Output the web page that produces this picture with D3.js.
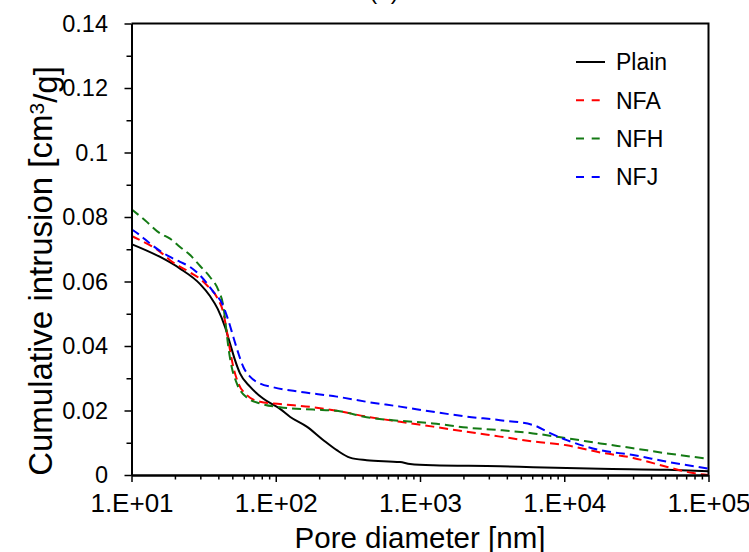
<!DOCTYPE html>
<html>
<head>
<meta charset="utf-8">
<script src="https://cdn.jsdelivr.net/npm/d3@7"></script>
<style>
  body { margin: 0; background: #fff; }
  svg { display: block; font-family: "Liberation Sans", Arial, sans-serif; }
</style>
</head>
<body>
<div id="chart"></div>
<script>
// [pore diameter (nm), cumulative intrusion (cm3/g)]
const plainData = [
  [10, 0.0716], [15.8, 0.0676], [21.7, 0.064], [29.9, 0.0592], [35, 0.0555],
  [39.6, 0.0515], [44.5, 0.0459], [48.2, 0.0408], [52.2, 0.0356], [56.5, 0.0315],
  [66.3, 0.0274], [81.7, 0.0237], [107, 0.0205], [126, 0.018], [164, 0.015],
  [214, 0.0108], [265, 0.0077], [327, 0.0054], [427, 0.0046], [728, 0.004],
  [853, 0.0034], [1233, 0.003], [3593, 0.0027], [6084, 0.0024], [17750, 0.0019],
  [51760, 0.0016], [100000, 0.0012]
];
const nfaData = [
  [10, 0.0741], [11.5, 0.0728], [15.8, 0.0692], [18.5, 0.0666], [25.5, 0.0628],
  [29.9, 0.0608], [33.2, 0.0589], [39, 0.0552], [43.4, 0.0501], [45.7, 0.0449],
  [48.2, 0.0387], [50.8, 0.0335], [55.1, 0.0284], [63, 0.0248], [77.8, 0.0227],
  [107, 0.022], [182, 0.021], [265, 0.0199], [427, 0.0181], [728, 0.0165],
  [1233, 0.015], [2112, 0.0134], [3593, 0.0119], [6084, 0.0104], [10420, 0.0092],
  [17750, 0.007], [30060, 0.0053], [51760, 0.0025], [78300, 0.0006], [100000, 0]
];
const nfhData = [
  [10, 0.0824], [12.4, 0.079], [15.8, 0.0749], [18.5, 0.0733], [21.7, 0.0707],
  [25.5, 0.0682], [29.9, 0.0648], [35, 0.0614], [40, 0.0573], [43.4, 0.0521],
  [45.2, 0.0459], [46.9, 0.0397], [49.5, 0.0335], [53.7, 0.0284], [63, 0.024],
  [77.8, 0.0222], [107, 0.021], [182, 0.0203], [265, 0.0199], [427, 0.0179],
  [728, 0.0168], [1233, 0.016], [2112, 0.0147], [3593, 0.0139], [6084, 0.0129],
  [10420, 0.0114], [17750, 0.0098], [30060, 0.0083], [51760, 0.0067], [100000, 0.005]
];
const nfjData = [
  [10, 0.0762], [11.5, 0.0743], [13.4, 0.0718], [18.5, 0.0676], [21.7, 0.0661],
  [25.5, 0.0645], [30.6, 0.0614], [36.9, 0.0568], [42.4, 0.0532], [46.9, 0.048],
  [50.8, 0.0428], [55.1, 0.0377], [59.6, 0.0335], [66.3, 0.0305], [77.8, 0.0284],
  [96.3, 0.0272], [147, 0.0258], [265, 0.0243], [427, 0.0227], [728, 0.0212],
  [1233, 0.0196], [2112, 0.0181], [3593, 0.017], [6084, 0.0155], [7980, 0.013],
  [10420, 0.0108], [17750, 0.0077], [30060, 0.0062], [51760, 0.0041], [100000, 0.002]
];

const seriesNames = ["Plain", "NFA", "NFH", "NFJ"];
const seriesColors = ["#000000", "#ff0000", "#147a14", "#0000ff"];
const seriesData = [plainData, nfaData, nfhData, nfjData];

const xTicks = [1e1, 1e2, 1e3, 1e4, 1e5];
const xTickLabels = ["1.E+01", "1.E+02", "1.E+03", "1.E+04", "1.E+05"];
const yTicks = [0, 0.02, 0.04, 0.06, 0.08, 0.1, 0.12, 0.14];
const yTickLabels = ["0", "0.02", "0.04", "0.06", "0.08", "0.1", "0.12", "0.14"];

const width = 749, height = 552;
const plotLeft = 131.5, plotRight = 708.5, plotTop = 23.5, plotBottom = 475;

const svg = d3.select("#chart")
  .append("svg")
  .attr("width", width)
  .attr("height", height);

const x = d3.scaleLog().domain([10, 1e5]).range([plotLeft, plotRight]);
const y = d3.scaleLinear().domain([0, 0.14]).range([plotBottom, plotTop]);

// minor ticks: 2..9 in every decade, half steps on y
const xMinor = [];
for (let p = 1; p < 5; p++) {
  for (let m = 2; m <= 9; m++) xMinor.push(m * Math.pow(10, p));
}
const yMinor = d3.range(0.01, 0.14, 0.02);

// plot frame (top and right)
svg.append("path")
  .attr("d", `M${plotLeft},${plotTop}H${plotRight}V${plotBottom}`)
  .attr("fill", "none")
  .attr("stroke", "#000")
  .attr("stroke-width", 2);

// series
const line = d3.line()
  .x(d => x(d[0]))
  .y(d => y(d[1]))
  .curve(d3.curveMonotoneX);

svg.append("g")
  .selectAll("path")
  .data(seriesData)
  .join("path")
  .attr("d", line)
  .attr("fill", "none")
  .attr("stroke", (d, i) => seriesColors[i])
  .attr("stroke-width", 2)
  .attr("stroke-dasharray", (d, i) => (i === 0 ? null : "9,5"));

// axes
const styleAxis = size => g => {
  g.selectAll("path.domain").attr("stroke", "#000").attr("stroke-width", 2);
  g.selectAll(".tick line").attr("stroke", "#000").attr("stroke-width", 1.5);
  g.selectAll(".tick text")
    .attr("fill", "#000")
    .style("font-size", size + "px")
    .style("font-family", "'Liberation Sans', Arial, sans-serif");
};

svg.append("g")
  .attr("transform", `translate(0,${plotBottom})`)
  .call(d3.axisBottom(x).tickValues(xMinor).tickSize(4.5).tickSizeOuter(0).tickFormat(""))
  .call(styleAxis(26));

svg.append("g")
  .attr("transform", `translate(0,${plotBottom})`)
  .call(d3.axisBottom(x).tickValues(xTicks).tickSize(7).tickSizeOuter(0)
    .tickFormat((d, i) => xTickLabels[i]))
  .call(styleAxis(26))
  .call(g => g.selectAll(".tick text").attr("y", 19).attr("dy", "0.71em"));

svg.append("g")
  .attr("transform", `translate(${plotLeft},0)`)
  .call(d3.axisLeft(y).tickValues(yMinor).tickSize(5).tickSizeOuter(0).tickFormat(""))
  .call(styleAxis(23.5));

svg.append("g")
  .attr("transform", `translate(${plotLeft},0)`)
  .call(d3.axisLeft(y).tickValues(yTicks).tickSize(7).tickSizeOuter(0)
    .tickFormat((d, i) => yTickLabels[i]))
  .call(styleAxis(23.5))
  .call(g => g.selectAll(".tick text").attr("x", -23.5));

// axis titles
svg.append("text")
  .attr("x", (plotLeft + plotRight) / 2)
  .attr("y", 548)
  .attr("text-anchor", "middle")
  .style("font-size", "29.5px")
  .text("Pore diameter [nm]");

const yTitle = svg.append("text")
  .attr("transform", "translate(52,271) rotate(-90)")
  .attr("text-anchor", "middle")
  .style("font-size", "33px");
yTitle.append("tspan").text("Cumulative intrusion [cm");
yTitle.append("tspan").attr("dy", "-0.4em").style("font-size", "21px").text("3");
yTitle.append("tspan").attr("dy", "0.4em").text("/g]");

// panel label, mostly cut off at the top
svg.append("text")
  .attr("x", 384)
  .attr("y", -1)
  .attr("text-anchor", "middle")
  .style("font-size", "24px")
  .text("(a)");

// legend
const legend = svg.append("g")
  .selectAll("g")
  .data(seriesNames)
  .join("g")
  .attr("transform", (d, i) => `translate(576,${62 + i * 38.3})`);

legend.append("line")
  .attr("x1", 0)
  .attr("x2", 29)
  .attr("stroke", (d, i) => seriesColors[i])
  .attr("stroke-width", 2)
  .attr("stroke-dasharray", (d, i) => (i === 0 ? null : "8,7.7"));

legend.append("text")
  .attr("x", 40)
  .attr("dy", "0.36em")
  .style("font-size", "23px")
  .text(d => d);
</script>
</body>
</html>
